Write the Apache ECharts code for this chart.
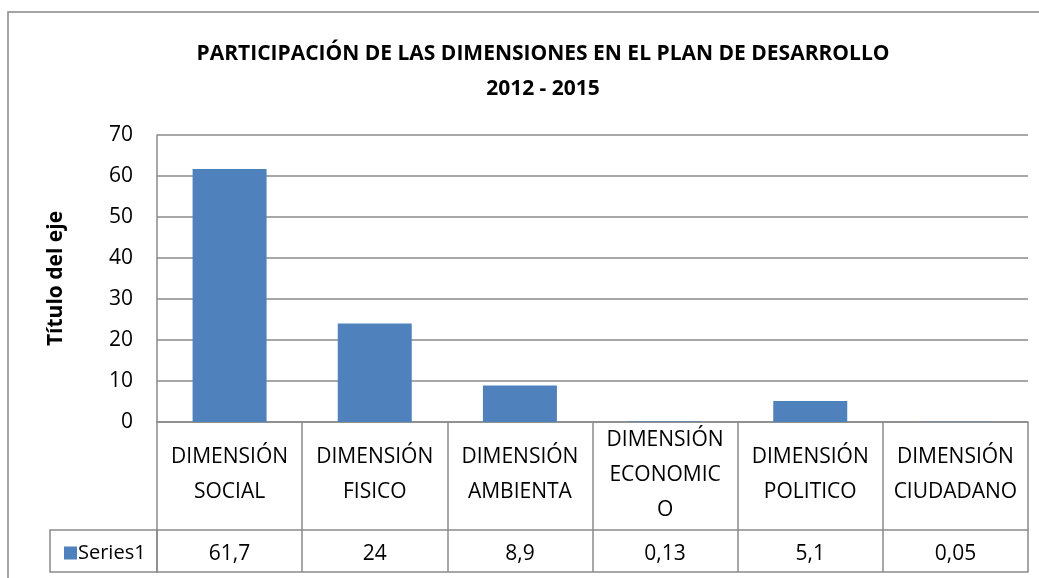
<!DOCTYPE html>
<html>
<head>
<meta charset="utf-8">
<script src="https://cdn.jsdelivr.net/npm/echarts@6/dist/echarts.min.js"></script>
<style>
  html, body { margin: 0; padding: 0; background: #fff; }
  #chart { width: 1039px; height: 578px; }
</style>
</head>
<body>
<div id="chart"></div>
<script>
// datos
const titleText = 'PARTICIPACIÓN DE LAS DIMENSIONES EN EL PLAN DE DESARROLLO\n2012 - 2015'
const categories = [
  'DIMENSIÓN\nSOCIAL',
  'DIMENSIÓN\nFISICO',
  'DIMENSIÓN\nAMBIENTA',
  'DIMENSIÓN\nECONOMIC\nO',
  'DIMENSIÓN\nPOLITICO',
  'DIMENSIÓN\nCIUDADANO',
]
const values = [61.7, 24, 8.9, 0.13, 5.1, 0.05]
const seriesName = 'Series1'
const axisTitle = 'Título del eje'

const FONT = 'Open Sans, Noto Sans, sans-serif'
const LINE = '#8a8a8a'
const fmt = v => String(v).replace('.', ',')

const chart = echarts.init(document.getElementById('chart'), null, { renderer: 'canvas' })

chart.setOption({
  backgroundColor: '#fff',
  animation: false,
  textStyle: { fontFamily: FONT },
  title: {
    text: titleText,
    left: 538, top: 32, textAlign: 'center',
    textStyle: { fontFamily: FONT, fontSize: 21, fontWeight: 'bold', color: '#000', lineHeight: 35 },
  },
  legend: {
    left: 59, top: 538, padding: 5,
    icon: 'rect', itemWidth: 13, itemHeight: 13, itemGap: 6,
    textStyle: { fontFamily: FONT, fontSize: 20, color: '#000', padding: [0, 0, 0, -4] },
    data: [seriesName],
  },
  grid: { left: 157, right: 11, top: 135, bottom: 156 },
  xAxis: [
    {
      type: 'category', data: categories, position: 'bottom',
      axisLine: { lineStyle: { color: LINE, width: 1.5 } },
      axisTick: { show: true, length: 150, interval: 0, lineStyle: { color: LINE, width: 1.5 } },
      axisLabel: {
        interval: 0, margin: 53, verticalAlign: 'middle',
        fontFamily: FONT, fontSize: 21, color: '#000', lineHeight: 35, align: 'center',
      },
      splitLine: { show: false },
    },
    {
      type: 'category', data: categories, position: 'bottom', offset: 108,
      axisLine: { show: true, lineStyle: { color: LINE, width: 1.5 } },
      axisTick: { show: false },
      axisLabel: {
        interval: 0, margin: 24, verticalAlign: 'middle',
        fontFamily: FONT, fontSize: 21, color: '#000',
        formatter: (v, i) => fmt(values[i]),
      },
    },
    {
      type: 'category', data: categories, position: 'bottom', offset: 150,
      axisLine: { show: true, lineStyle: { color: LINE, width: 1.5 } },
      axisTick: { show: false },
      axisLabel: { show: false },
    },
  ],
  yAxis: {
    type: 'value', min: 0, max: 70, interval: 10,
    name: axisTitle, nameLocation: 'middle', nameGap: 90, nameRotate: 90,
    nameTextStyle: { fontFamily: FONT, fontSize: 21, fontWeight: 'bold', color: '#000' },
    axisLine: { show: true, lineStyle: { color: LINE, width: 1.5 } },
    axisTick: { show: false },
    axisLabel: { margin: 24, fontFamily: FONT, fontSize: 21, color: '#000' },
    splitLine: { lineStyle: { color: LINE, width: 1.5 } },
  },
  series: [
    {
      name: seriesName, type: 'bar', xAxisIndex: 0,
      data: values, barWidth: 74,
      itemStyle: { color: '#4F81BD' },
    },
  ],
  graphic: [
    // marco exterior
    { type: 'rect', silent: true, z: -1, shape: { x: 8, y: 12, width: 1060, height: 620 }, style: { fill: 'none', stroke: '#868686', lineWidth: 1.5 } },
    // celda de la leyenda
    { type: 'rect', silent: true, shape: { x: 50, y: 530, width: 107, height: 42 }, style: { fill: 'none', stroke: LINE, lineWidth: 1.5 } },
  ],
})
</script>
</body>
</html>
